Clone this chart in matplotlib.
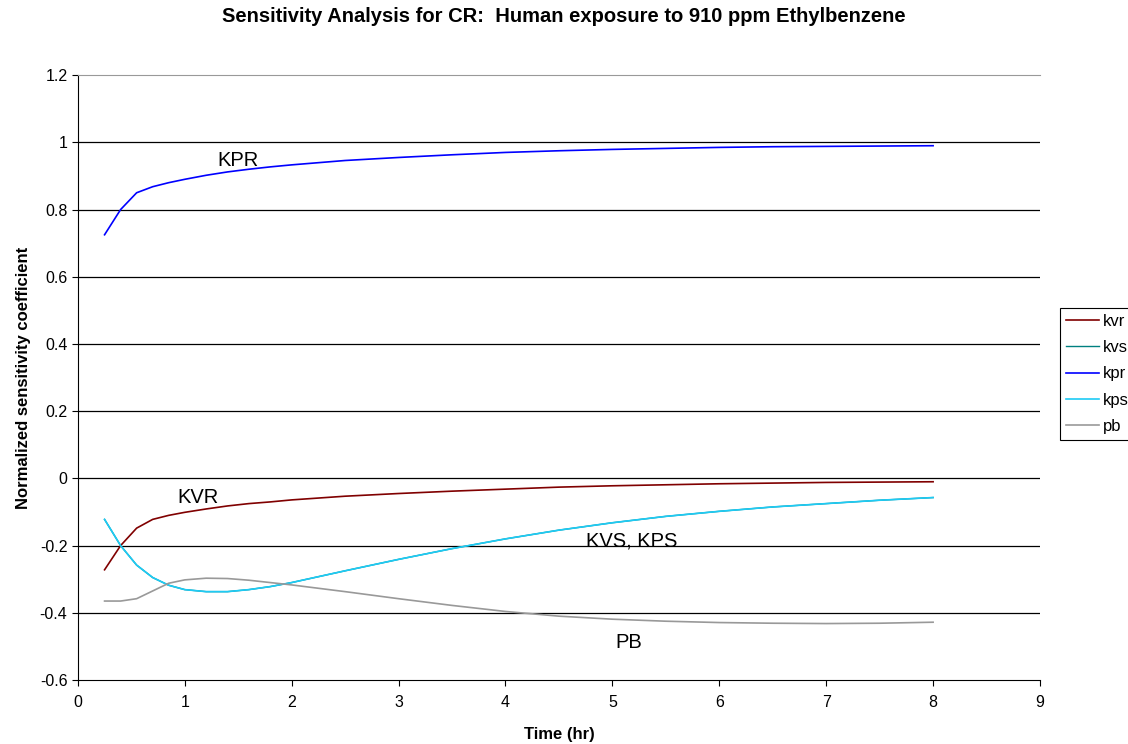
import matplotlib.pyplot as plt
import numpy as np

plt.rc('font', family=['Liberation Sans', 'DejaVu Sans'])

# time points (hr)
t = [0.25, 0.4, 0.55, 0.7, 0.85, 1.0, 1.2, 1.4, 1.6, 1.8, 2.0, 2.5, 3.0, 3.5, 4.0,
     4.5, 5.0, 5.5, 6.0, 6.5, 7.0, 7.5, 8.0]

kvr = [-0.272, -0.200, -0.148, -0.122, -0.110, -0.101, -0.091, -0.082, -0.075, -0.070,
       -0.064, -0.053, -0.045, -0.038, -0.032, -0.026, -0.022, -0.019, -0.016, -0.014,
       -0.012, -0.011, -0.010]
kps = [-0.122, -0.200, -0.258, -0.295, -0.318, -0.331, -0.337, -0.337, -0.331, -0.322,
       -0.310, -0.275, -0.241, -0.209, -0.180, -0.154, -0.132, -0.113, -0.098, -0.085,
       -0.075, -0.065, -0.057]
kvs = kps
kpr = [0.725, 0.800, 0.850, 0.868, 0.880, 0.890, 0.902, 0.912, 0.920, 0.927,
       0.933, 0.946, 0.955, 0.963, 0.970, 0.975, 0.979, 0.982, 0.985, 0.987,
       0.988, 0.989, 0.990]
pb = [-0.365, -0.365, -0.358, -0.335, -0.312, -0.302, -0.297, -0.298, -0.303, -0.310,
      -0.317, -0.337, -0.358, -0.378, -0.396, -0.410, -0.419, -0.425, -0.429, -0.431,
      -0.432, -0.431, -0.428]

fig = plt.figure(figsize=(11.28, 7.44), dpi=100)
ax = fig.add_axes([0.069, 0.086, 0.853, 0.813])

for y in np.arange(-0.4, 1.01, 0.2):
    ax.axhline(y, color='k', lw=0.9, zorder=1)

ax.plot(t, kvr, color='#800000', lw=1.2, label='kvr', zorder=3)
ax.plot(t, kvs, color='#008080', lw=1.0, label='kvs', zorder=3)
ax.plot(t, kpr, color='#0000ff', lw=1.2, label='kpr', zorder=3)
ax.plot(t, kps, color='#1ecbf5', lw=1.2, label='kps', zorder=3)
ax.plot(t, pb, color='#999999', lw=1.2, label='pb', zorder=3)

ax.text(1.5, 0.947, 'KPR', fontsize=14.5, ha='center', va='center')
ax.text(1.12, -0.057, 'KVR', fontsize=14.5, ha='center', va='center')
ax.text(5.18, -0.185, 'KVS, KPS', fontsize=14.5, ha='center', va='center')
ax.text(5.15, -0.488, 'PB', fontsize=14.5, ha='center', va='center')

ax.set_xlim(0, 9)
ax.set_ylim(-0.6, 1.2)
ax.set_xticks(np.arange(0, 10, 1))
ax.set_yticks(np.arange(-0.6, 1.21, 0.2))
ax.set_yticklabels(['-0.6', '-0.4', '-0.2', '0', '0.2', '0.4', '0.6', '0.8', '1', '1.2'])
ax.tick_params(axis='both', labelsize=11.5, direction='out', length=4, color='k')
ax.tick_params(axis='x', pad=7)
ax.spines['right'].set_visible(False)
ax.spines['top'].set_color('#999999')

ax.set_xlabel('Time (hr)', fontsize=12, weight='bold', labelpad=12)
ax.set_ylabel('Normalized sensitivity coefficient', fontsize=12, weight='bold', labelpad=6)
fig.suptitle('Sensitivity Analysis for CR:  Human exposure to 910 ppm Ethylbenzene',
             fontsize=14.5, weight='bold', y=0.99)

leg = ax.legend(loc='lower left', bbox_to_anchor=(1.021, 0.397), fontsize=12,
                fancybox=False, edgecolor='k', framealpha=1, handlelength=2.0,
                handletextpad=0.2, borderpad=0.35, labelspacing=0.68,
                borderaxespad=0)
leg.get_frame().set_linewidth(0.8)

plt.savefig('out.png', dpi=100)
